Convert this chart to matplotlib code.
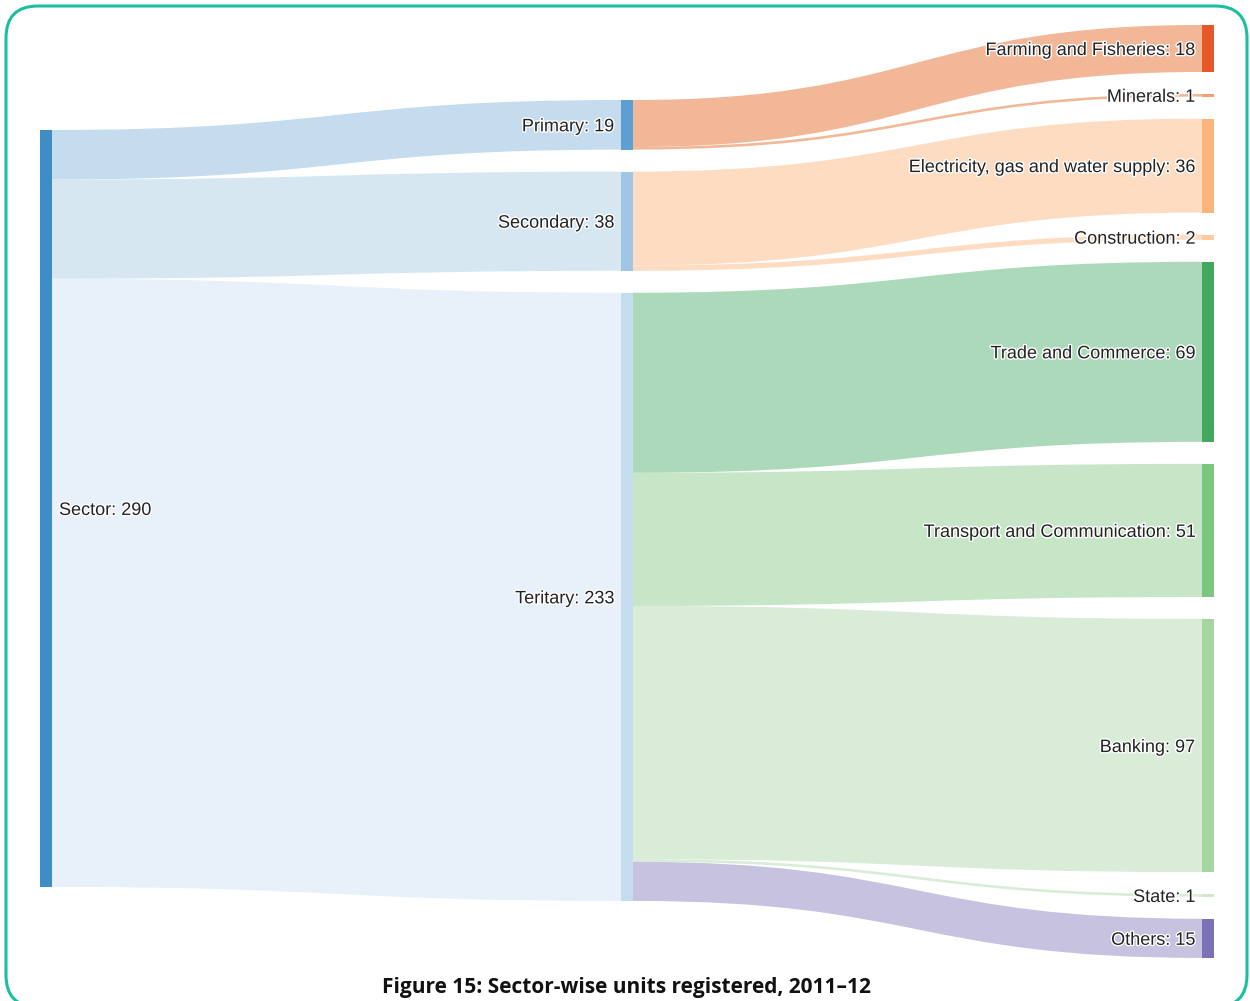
import matplotlib.pyplot as plt
import matplotlib as mpl
from matplotlib.path import Path
from matplotlib.patches import PathPatch, Rectangle, FancyBboxPatch
import matplotlib.patheffects as pe

plt.rcParams["font.family"] = ["Liberation Sans", "DejaVu Sans"]

# nodes of the sankey, column by column
node_names = ["Sector", "Primary", "Secondary", "Teritary",
	"Farming and Fisheries", "Minerals", "Electricity, gas and water supply",
	"Construction", "Trade and Commerce", "Transport and Communication",
	"Banking", "State", "Others"]
node_column = [0, 1, 1, 1, 2, 2, 2, 2, 2, 2, 2, 2, 2]
node_colors = ["#3f8dc6", "#5d9fd2", "#9fc6e3", "#c6dcef",
	"#e5582a", "#f4a071", "#fbb47c", "#fdc9a0",
	"#41a85c", "#7dc67f", "#a6d69f", "#cfe9c9", "#7b72b5"]

# links: source, target, value
link_source = [0, 0, 0, 1, 1, 2, 2, 3, 3, 3, 3, 3]
link_target = [1, 2, 3, 4, 5, 6, 7, 8, 9, 10, 11, 12]
link_value = [19, 38, 233, 18, 1, 36, 2, 69, 51, 97, 1, 15]
link_colors = ["#c5dcee", "#d6e7f2", "#e8f0fa",
	"#f2b797", "#f2b797", "#fddcc2", "#fddcc2",
	"#acd9b9", "#c7e5c7", "#d9ecd7", "#d9ecd7", "#c6c2e0"]

caption = "Figure 15: Sector-wise units registered, 2011\u201312"

W, H = 1250, 1001
scale = 2.61          # pixels per unit
node_w = 12
gap = 22
col_x = [40, 621, 1202]
col_top = [130, 100, 25]

fig = plt.figure(figsize=(W / 100, H / 100), dpi=100)
ax = fig.add_axes([0, 0, 1, 1])
ax.set_xlim(0, W)
ax.set_ylim(H, 0)
ax.axis("off")

# node values and positions
n = len(node_names)
vin = [0] * n
vout = [0] * n
for s, t, v in zip(link_source, link_target, link_value):
	vout[s] += v
	vin[t] += v
node_val = [max(a, b) for a, b in zip(vin, vout)]
node_y = [0.0] * n
cursor = list(col_top)
for i in range(n):
	c = node_column[i]
	node_y[i] = cursor[c]
	cursor[c] += node_val[i] * scale + gap

# links
out_off = [0.0] * n
in_off = [0.0] * n
for s, t, v, col in zip(link_source, link_target, link_value, link_colors):
	h = v * scale
	x0 = col_x[node_column[s]] + node_w
	x1 = col_x[node_column[t]]
	y0 = node_y[s] + out_off[s]
	y1 = node_y[t] + in_off[t]
	out_off[s] += h
	in_off[t] += h
	xm = (x0 + x1) / 2
	verts = [(x0, y0), (xm, y0), (xm, y1), (x1, y1),
		(x1, y1 + h), (xm, y1 + h), (xm, y0 + h), (x0, y0 + h), (x0, y0)]
	codes = [Path.MOVETO, Path.CURVE4, Path.CURVE4, Path.CURVE4,
		Path.LINETO, Path.CURVE4, Path.CURVE4, Path.CURVE4, Path.CLOSEPOLY]
	ax.add_patch(PathPatch(Path(verts, codes), facecolor=col, edgecolor="none", zorder=1))

# nodes and labels
halo = [pe.withStroke(linewidth=2, foreground="white")]
for i in range(n):
	c = node_column[i]
	h = node_val[i] * scale
	ax.add_patch(Rectangle((col_x[c], node_y[i]), node_w, max(h, 1.5),
		facecolor=node_colors[i], edgecolor="none", zorder=2))
	label = "%s: %d" % (node_names[i], node_val[i])
	yc = node_y[i] + h / 2 + 2
	if c == 0:
		ax.text(col_x[c] + node_w + 7, yc, label, ha="left", va="center",
			fontsize=13, color="#222222", path_effects=halo, zorder=3)
	else:
		ax.text(col_x[c] - 7, yc, label, ha="right", va="center",
			fontsize=13, color="#222222", path_effects=halo, zorder=3)

ax.text(626, 988, caption, ha="center", va="center", fontsize=15,
	fontweight="bold", family=["Open Sans", "DejaVu Sans"], color="#111111")

# rounded frame on an overlay with y going up
frame = fig.add_axes([0, 0, 1, 1], facecolor="none")
frame.set_xlim(0, W)
frame.set_ylim(0, H)
frame.axis("off")
frame.add_patch(FancyBboxPatch((6, -6), 1241, 1001, boxstyle="round,pad=0,rounding_size=32",
	facecolor="none", edgecolor="#1bbf9f", linewidth=2.2, clip_on=False))

fig.savefig("out.png", dpi=100)
